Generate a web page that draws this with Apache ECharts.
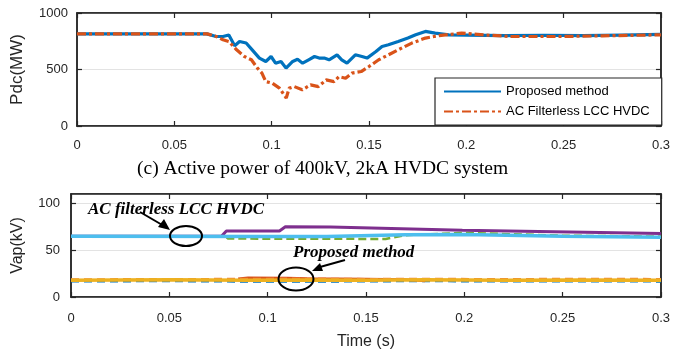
<!DOCTYPE html>
<html>
<head>
<meta charset="utf-8">
<script src="https://cdn.jsdelivr.net/npm/echarts@6/dist/echarts.min.js"></script>
<style>
  html, body { margin: 0; padding: 0; background: #fff; }
  #chart { width: 673px; height: 354px; }
</style>
</head>
<body>
<div id="chart"></div>
<script>
// ---- data ----
const xTicks = ['0', '0.05', '0.1', '0.15', '0.2', '0.25', '0.3'];
const pdcTicks = ['0', '500', '1000'];
const vapTicks = ['0', '50', '100'];

// (c) Pdc, MW
const tProposed = [0, 0.0666, 0.0715, 0.075, 0.078, 0.081, 0.0835, 0.0869, 0.090, 0.0937, 0.097, 0.0997, 0.102, 0.1048, 0.1074, 0.1108, 0.1133, 0.1159, 0.119, 0.122, 0.1244, 0.127, 0.1295, 0.1336, 0.136, 0.1387, 0.143, 0.1464, 0.149, 0.1536, 0.1567, 0.16, 0.165, 0.17, 0.174, 0.179, 0.184, 0.191, 0.2, 0.22, 0.24, 0.26, 0.28, 0.3];
const pProposed = [815, 815, 792, 792, 805, 710, 748, 734, 674, 601, 571, 615, 556, 571, 512, 571, 590, 556, 586, 615, 601, 601, 586, 630, 586, 556, 630, 615, 601, 659, 704, 719, 748, 778, 807, 837, 822, 807, 805, 800, 803, 800, 805, 810];

const tFilterless = [0, 0.067, 0.0715, 0.075, 0.078, 0.082, 0.086, 0.0896, 0.0927, 0.095, 0.097, 0.1003, 0.104, 0.1075, 0.109, 0.1116, 0.1157, 0.12, 0.124, 0.128, 0.132, 0.1346, 0.138, 0.1413, 0.146, 0.15, 0.155, 0.16, 0.165, 0.172, 0.179, 0.186, 0.1976, 0.21, 0.223, 0.249, 0.27, 0.3];
const pFilterless = [815, 815, 792, 763, 748, 674, 615, 586, 512, 468, 393, 379, 335, 248, 335, 349, 320, 364, 349, 408, 393, 437, 423, 468, 482, 526, 586, 630, 674, 734, 778, 800, 822, 805, 792, 792, 798, 807];

// Vap, kV  (AC filterless group ~65 kV, proposed group ~18 kV)
const tPurple = [0, 0.0766, 0.079, 0.106, 0.109, 0.132, 0.199, 0.3];
const vPurple = [65, 65, 70.5, 70.5, 75, 74.8, 71.3, 67.8];
const tCyan = [0, 0.1, 0.13, 0.17, 0.2, 0.25, 0.3];
const vCyan = [65, 64.5, 64.5, 66.5, 66.8, 64.8, 63.8];
const tGreen = [0, 0.078, 0.08, 0.16, 0.17, 0.2, 0.25, 0.3];
const vGreen = [65, 65, 62.4, 62, 66, 68.5, 65.5, 64.5];

const tLow = [0, 0.05, 0.09, 0.12, 0.15, 0.18, 0.22, 0.26, 0.3];
const vYellow = [18, 18.3, 17.8, 18.2, 17.8, 18.3, 18, 18.2, 18];
const vOrange = [19, 19.2, 19.5, 19.8, 19.3, 19.5, 19.2, 19.6, 19.3];
const vBlueLow = [16.5, 16.8, 16.3, 16.2, 16.6, 16.8, 16.5, 16.6, 16.4];
const tRed = [0.085, 0.09, 0.11, 0.12, 0.15, 0.17, 0.18];
const vRed = [19.5, 20.5, 20.3, 19.8, 19.2, 18.8, 17.2];

const zip = (t, v) => t.map((x, i) => [x, v[i]]);

const axisColor = '#262626';
const sans = '"Liberation Sans", Arial, sans-serif';
const serif = '"Liberation Serif", "Times New Roman", serif';

function xAxisCfg(grid, showLabels, position, margin) {
  return {
    gridIndex: grid, type: 'value', min: 0, max: 0.3, interval: 0.05, position: position,
    axisLine: { show: true, onZero: false, lineStyle: { color: axisColor, width: 1.5 } },
    axisTick: { show: true, inside: true, length: 5, lineStyle: { color: axisColor, width: 1.2 } },
    axisLabel: { show: showLabels, fontSize: 13, color: axisColor, fontFamily: sans, margin: margin,
      formatter: (v, i) => xTicks[i] },
    splitLine: { show: false }
  };
}

function yAxisCfg(grid, showLabels, position, max, interval, margin, labels) {
  return {
    gridIndex: grid, type: 'value', min: 0, max: max, interval: interval, position: position,
    axisLine: { show: true, onZero: false, lineStyle: { color: axisColor, width: 1.5 } },
    axisTick: { show: true, inside: true, length: 5, lineStyle: { color: axisColor, width: 1.2 } },
    axisLabel: { show: showLabels, fontSize: 13, color: axisColor, fontFamily: sans, margin: margin,
      showMaxLabel: max % interval === 0,
      formatter: (v, i) => (labels && labels[i] !== undefined ? labels[i] : '') },
    splitLine: { show: showLabels, lineStyle: { color: '#e3e3e3', width: 1 } }
  };
}

const chart = echarts.init(document.getElementById('chart'));

const xs = [
  xAxisCfg(0, true, 'bottom', 13),
  xAxisCfg(0, false, 'top', 8),
  Object.assign(xAxisCfg(1, true, 'bottom', 15), {
    name: 'Time (s)', nameLocation: 'middle', nameGap: 37,
    nameTextStyle: { fontSize: 16, color: axisColor, fontFamily: sans }
  }),
  xAxisCfg(1, false, 'top', 8)
];
const ys = [
  Object.assign(yAxisCfg(0, true, 'left', 1000, 500, 9, pdcTicks), {
    name: 'Pdc(MW)', nameLocation: 'middle', nameGap: 51,
    nameTextStyle: { fontSize: 17, color: axisColor, fontFamily: sans }
  }),
  yAxisCfg(0, false, 'right', 1000, 500, 8),
  Object.assign(yAxisCfg(1, true, 'left', 110, 50, 11, vapTicks), {
    name: 'Vap(kV)', nameLocation: 'middle', nameGap: 45,
    nameTextStyle: { fontSize: 16, color: axisColor, fontFamily: sans }
  }),
  yAxisCfg(1, false, 'right', 110, 50, 8)
];

function line(name, xi, yi, data, color, width, type, z) {
  return {
    name: name, type: 'line', xAxisIndex: xi, yAxisIndex: yi, data: data,
    symbol: 'none', animation: false, z: z || 2,
    lineStyle: { color: color, width: width, type: type || 'solid' },
    itemStyle: { color: color }
  };
}

const option = {
  backgroundColor: '#fff',
  animation: false,
  title: {
    text: '(c) Active power of 400kV, 2kA HVDC system',
    left: 132, top: 154,
    textStyle: { fontFamily: serif, fontSize: 19.5, fontWeight: 'normal', color: '#000' }
  },
  grid: [
    { left: 77, top: 13, width: 586, height: 113, show: true, borderColor: axisColor, borderWidth: 1.5, backgroundColor: '#fff' },
    { left: 71, top: 194, width: 590, height: 103, show: true, borderColor: axisColor, borderWidth: 1.5, backgroundColor: '#fff' }
  ],
  xAxis: xs,
  yAxis: ys,
  legend: {
    data: ['Proposed method', 'AC Filterless LCC HVDC'],
    orient: 'vertical', left: 435, top: 78,
    padding: [7, 12, 7, 8], itemGap: 7, itemWidth: 57, itemHeight: 14,
    backgroundColor: '#fff', borderColor: axisColor, borderWidth: 1.2, borderRadius: 0,
    itemStyle: { opacity: 0 },
    textStyle: { fontSize: 13, color: '#000', fontFamily: sans },
    z: 10
  },
  graphic: [
    { type: 'text', left: 88, top: 201, z: 100,
      style: { text: 'AC filterless LCC HVDC', font: 'italic bold 17px "Liberation Serif"', fill: '#000' } },
    { type: 'ellipse', z: 100, shape: { cx: 186, cy: 236, rx: 16, ry: 10 },
      style: { fill: 'none', stroke: '#000', lineWidth: 2 } },
    { type: 'polyline', z: 100, shape: { points: [[140, 212], [164, 226]] },
      style: { stroke: '#000', lineWidth: 2 } },
    { type: 'polygon', z: 100, shape: { points: [[170, 230], [158, 227], [164, 219]] },
      style: { fill: '#000' } },
    { type: 'text', left: 293, top: 244, z: 100,
      style: { text: 'Proposed method', font: 'italic bold 17px "Liberation Serif"', fill: '#000' } },
    { type: 'ellipse', z: 100, shape: { cx: 296, cy: 279, rx: 17.5, ry: 11.5 },
      style: { fill: 'none', stroke: '#000', lineWidth: 2 } },
    { type: 'polyline', z: 100, shape: { points: [[345, 260], [320, 267]] },
      style: { stroke: '#000', lineWidth: 2 } },
    { type: 'polygon', z: 100, shape: { points: [[312, 271], [320, 263], [323, 271]] },
      style: { fill: '#000' } }
  ],
  series: [
    line('Proposed method', 0, 0, zip(tProposed, pProposed), '#0072BD', 3.2, 'solid', 3),
    line('AC Filterless LCC HVDC', 0, 0, zip(tFilterless, pFilterless), '#D95319', 3.2, [9, 3, 3, 3], 4),

    line('va filterless', 2, 2, zip(tPurple, vPurple), '#7E2F8E', 3, 'solid', 2),
    line('vb filterless', 2, 2, zip(tGreen, vGreen), '#77AC30', 2.5, [8, 4], 3),
    line('vc filterless', 2, 2, zip(tCyan, vCyan), '#4DBEEE', 3.5, 'solid', 4),
    line('va proposed', 2, 2, zip(tLow, vBlueLow), '#0072BD', 2, [8, 5], 2),
    line('vb proposed', 2, 2, zip(tRed, vRed), '#D95319', 2.5, 'solid', 3),
    line('vc proposed', 2, 2, zip(tLow, vOrange), '#F07F3C', 2, [8, 5], 3),
    line('vd proposed', 2, 2, zip(tLow, vYellow), '#EDB120', 3.5, 'solid', 4)
  ]
};

chart.setOption(option);
</script>
</body>
</html>
